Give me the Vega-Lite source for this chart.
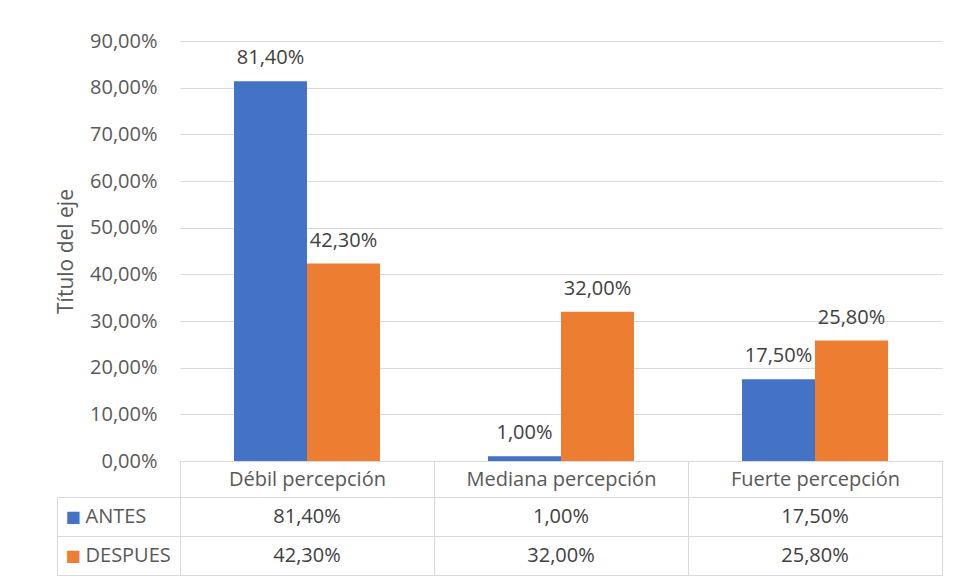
{
  "$schema": "https://vega.github.io/schema/vega-lite/v6.json",
  "background": "white",
  "padding": {"left": 55, "top": 31, "right": 10, "bottom": 0},
  "config": {
    "font": "Open Sans",
    "view": {"stroke": null},
    "locale": {"number": {"decimal": ",", "thousands": ".", "grouping": [3], "currency": ["", " €"]}}
  },
  "data": {"values": [
    {"categoria": "Débil percepción", "serie": "ANTES", "valor": 0.814},
    {"categoria": "Débil percepción", "serie": "DESPUES", "valor": 0.423},
    {"categoria": "Mediana percepción", "serie": "ANTES", "valor": 0.01},
    {"categoria": "Mediana percepción", "serie": "DESPUES", "valor": 0.32},
    {"categoria": "Fuerte percepción", "serie": "ANTES", "valor": 0.175},
    {"categoria": "Fuerte percepción", "serie": "DESPUES", "valor": 0.258}
  ]},
  "spacing": 36,
  "bounds": "flush",
  "vconcat": [
    {
      "width": 762,
      "height": 420,
      "encoding": {
        "x": {"field": "categoria", "type": "nominal", "sort": ["Débil percepción", "Mediana percepción", "Fuerte percepción"],
          "scale": {"paddingInner": 0, "paddingOuter": 0},
          "axis": {"title": null, "labels": false, "ticks": false, "domain": true, "domainColor": "#d9d9d9", "grid": false}},
        "xOffset": {"field": "serie", "type": "nominal", "sort": ["ANTES", "DESPUES"], "scale": {"paddingInner": 0, "paddingOuter": 0.74}},
        "y": {"field": "valor", "type": "quantitative", "scale": {"domain": [0, 0.9], "nice": false},
          "axis": {"values": [0, 0.1, 0.2, 0.3, 0.4, 0.5, 0.6, 0.7, 0.8, 0.9], "format": ".2%", "title": "Título del eje",
            "titleFontSize": 21, "titleFontWeight": "normal", "titleColor": "#595959", "titlePadding": 13,
            "labelFontSize": 20, "labelColor": "#595959", "labelPadding": 23, "domain": false, "ticks": false,
            "grid": true, "gridColor": "#d9d9d9", "gridWidth": 1}}
      },
      "layer": [
        {"mark": {"type": "bar"},
          "encoding": {"color": {"field": "serie", "type": "nominal", "scale": {"domain": ["ANTES", "DESPUES"], "range": ["#4472C4", "#ED7D31"]}, "legend": null}}},
        {"mark": {"type": "text", "baseline": "alphabetic", "dy": -17, "fontSize": 20, "color": "#404040"},
          "encoding": {"text": {"field": "valor", "type": "quantitative", "format": ".2%"}}}
      ]
    },
    {
      "width": 762,
      "height": 78,
      "resolve": {"axis": {"y": "independent"}},
      "layer": [
        {"mark": {"type": "text", "fontSize": 20, "color": "#404040"},
          "encoding": {
            "x": {"field": "categoria", "type": "nominal", "sort": ["Débil percepción", "Mediana percepción", "Fuerte percepción"],
              "scale": {"paddingInner": 0, "paddingOuter": 0},
              "axis": {"orient": "top", "title": null, "tickSize": 36, "tickBand": "extent", "tickColor": "#d9d9d9", "domainColor": "#d9d9d9",
                "labelPadding": -18, "labelBaseline": "middle", "labelFontSize": 20, "labelColor": "#595959", "labelAngle": 0, "labelLimit": 0,
                "grid": true, "gridColor": "#d9d9d9"}},
            "y": {"field": "serie", "type": "nominal", "sort": ["ANTES", "DESPUES"],
              "scale": {"paddingInner": 0, "paddingOuter": 0},
              "axis": {"orient": "left", "title": null, "tickSize": 123, "tickBand": "extent", "tickColor": "#d9d9d9", "domainColor": "#d9d9d9",
                "labelAlign": "left", "labelPadding": -28, "labelFontSize": 20, "labelColor": "#595959",
                "grid": true, "gridColor": "#d9d9d9"}},
            "text": {"field": "valor", "type": "quantitative", "format": ".2%"}
          }},
        {"mark": {"type": "point", "opacity": 0},
          "encoding": {
            "y": {"field": "serie", "type": "nominal", "sort": ["ANTES", "DESPUES"],
              "axis": {"orient": "left", "title": null, "offset": 123, "ticks": false, "grid": false, "domainColor": "#d9d9d9",
                "labelExpr": "'■'", "labelAlign": "left", "labelPadding": -8, "labelFontSize": 16, "labelFont": "DejaVu Sans",
                "labelColor": {"condition": {"test": "datum.value === 'ANTES'", "value": "#4472C4"}, "value": "#ED7D31"}}}
          }}
      ]
    }
  ]
}
